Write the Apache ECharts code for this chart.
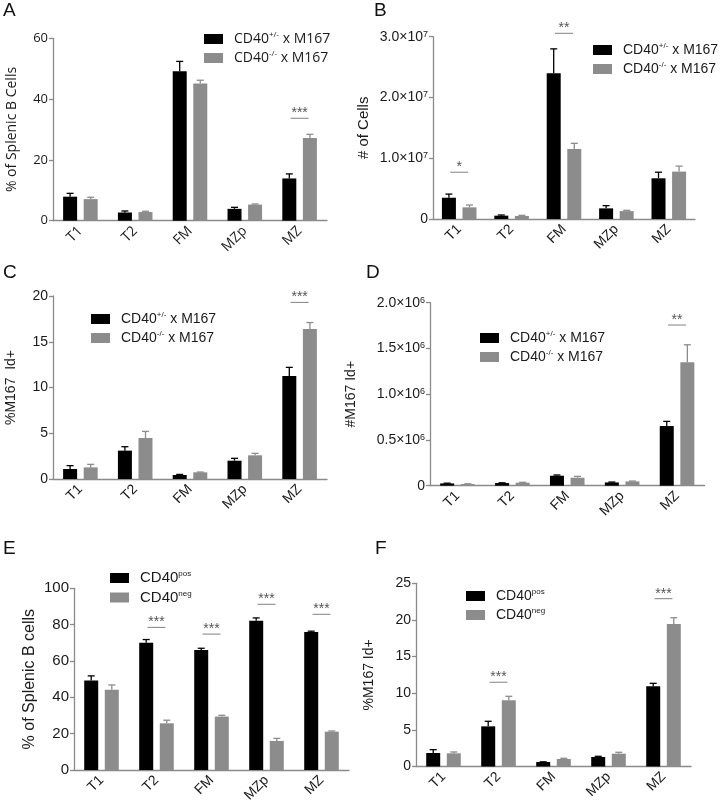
<!DOCTYPE html>
<html><head><meta charset="utf-8">
<script src="https://cdn.jsdelivr.net/npm/echarts@6/dist/echarts.min.js"></script>
<style>html,body{margin:0;padding:0;background:#fff}#c{width:724px;height:808px}</style>
</head><body><div id="c"></div>
<script>
// ---------- DATA ----------
const categories = ['T1', 'T2', 'FM', 'MZp', 'MZ'];
const legendNamesAD = ['CD40+/- x M167', 'CD40-/- x M167'];
const legendNamesEF = ['CD40pos', 'CD40neg'];

// A: % of Splenic B Cells
const aBlack = [7.9, 2.7, 49.2, 3.9, 13.9];
const aBlackErr = [1.1, 0.5, 3.2, 0.5, 1.5];
const aGray = [7.1, 2.85, 45.1, 5.3, 27.2];
const aGrayErr = [0.6, 0.25, 1.1, 0.2, 1.2];
const aSig = [[4, 33.7, '***']];

// B: # of Cells
const bBlack = [3.5e6, 0.55e6, 2.40e7, 1.75e6, 6.7e6];
const bBlackErr = [0.6e6, 0.11e6, 4.0e6, 0.45e6, 1.0e6];
const bGray = [1.92e6, 0.5e6, 1.15e7, 1.3e6, 7.8e6];
const bGrayErr = [0.38e6, 0.1e6, 0.95e6, 0.13e6, 0.9e6];
const bSig = [[0, 7.7e6, '*'], [2, 3.056e7, '**']];
const bTickMantissa = ['0', '1.0', '2.0', '3.0'];
const bTickExp = '7';

// C: %M167 Id+
const cBlack = [1.09, 3.1, 0.44, 2.0, 11.26];
const cBlackErr = [0.37, 0.43, 0.06, 0.26, 0.94];
const cGray = [1.27, 4.48, 0.73, 2.59, 16.4];
const cGrayErr = [0.33, 0.72, 0.03, 0.21, 0.7];
const cSig = [[4, 19.3, '***']];

// D: #M167 Id+
const dBlack = [25000, 29000, 109000, 36000, 652000];
const dBlackErr = [3000, 3000, 8000, 4000, 51000];
const dGray = [18000, 33000, 87000, 47000, 1348000];
const dGrayErr = [3000, 4000, 15000, 4000, 192000];
const dSig = [[4, 1.756e6, '**']];
const dTickMantissa = ['0', '0.5', '1.0', '1.5', '2.0'];
const dTickExp = '6';

// E: % of Splenic B cells
const eBlack = [49.2, 70.0, 66.1, 82.1, 76.0];
const eBlackErr = [2.6, 1.8, 0.9, 1.6, 0.4];
const eGray = [44.1, 25.7, 29.4, 16.0, 21.1];
const eGrayErr = [2.7, 1.7, 0.7, 1.4, 0.4];
const eSig = [[1, 78.5, '***'], [2, 74.8, '***'], [3, 91.2, '***'], [4, 85.7, '***']];

// F: %M167 Id+
const fBlack = [1.84, 5.48, 0.61, 1.3, 10.94];
const fBlackErr = [0.46, 0.69, 0.03, 0.09, 0.41];
const fGray = [1.8, 9.03, 1.02, 1.75, 19.44];
const fGrayErr = [0.18, 0.55, 0.1, 0.19, 0.86];
const fSig = [[1, 11.5, '***'], [4, 22.9, '***']];

// ---------- STYLE / LAYOUT ----------
const BLACK = '#000000';
const GRAY = '#8c8c8c';
const AXIS = '#8a8a8a';
const TXT = '#1a1a1a';
const ARIAL = '"Liberation Sans", Arial, sans-serif';
const OPEN = '"Open Sans", sans-serif';
const BAR_W = 14;
const HALF = 10.3;

function expFormatter(mant, exp, interval) {
  return function (v) {
    const i = Math.round(v / interval);
    if (i === 0) return mant[0];
    return '{m|' + mant[i] + '×10}{e|' + exp + '}';
  };
}

const panels = [
  { letter: 'A', lx: 3, ly: 1, font: OPEN, grid: { left: 53, top: 38.3, width: 274, height: 182.4 },
    max: 60, interval: 20, black: aBlack, blackErr: aBlackErr, gray: aGray, grayErr: aGrayErr, sig: aSig,
    names: legendNamesAD, ytitle: '% of Splenic B Cells', titleSize: 14, nameGap: 34, tickSize: 13, catSize: 14,
    legend: { left: 204, top: 31 }, legendSize: 14 },
  { letter: 'B', lx: 374, ly: 1, font: ARIAL, grid: { left: 433, top: 36.7, width: 262, height: 182.3 },
    max: 3e7, interval: 1e7, black: bBlack, blackErr: bBlackErr, gray: bGray, grayErr: bGrayErr, sig: bSig,
    names: legendNamesAD, ytitle: '# of Cells', titleSize: 15, nameGap: 62, tickSize: 14, catSize: 14,
    fmt: expFormatter(bTickMantissa, bTickExp, 1e7),
    legend: { left: 593, top: 42 }, legendSize: 14 },
  { letter: 'C', lx: 3, ly: 263, font: ARIAL, grid: { left: 53, top: 296, width: 274, height: 183 },
    max: 20, interval: 5, black: cBlack, blackErr: cBlackErr, gray: cGray, grayErr: cGrayErr, sig: cSig,
    names: legendNamesAD, ytitle: '%M167  Id+', titleSize: 14, nameGap: 35, tickSize: 14, catSize: 14,
    legend: { left: 91, top: 311 }, legendSize: 14 },
  { letter: 'D', lx: 366, ly: 263, font: ARIAL, grid: { left: 430, top: 302.7, width: 274.5, height: 183 },
    max: 2e6, interval: 5e5, black: dBlack, blackErr: dBlackErr, gray: dGray, grayErr: dGrayErr, sig: dSig,
    names: legendNamesAD, ytitle: '#M167 Id+', titleSize: 14, nameGap: 72, tickSize: 14, catSize: 14,
    fmt: expFormatter(dTickMantissa, dTickExp, 5e5),
    legend: { left: 480, top: 330 }, legendSize: 14 },
  { letter: 'E', lx: 3, ly: 539, font: ARIAL, grid: { left: 74, top: 588.3, width: 275, height: 181.7 },
    max: 100, interval: 20, black: eBlack, blackErr: eBlackErr, gray: eGray, grayErr: eGrayErr, sig: eSig,
    names: legendNamesEF, ytitle: '% of Splenic B cells', titleSize: 16, nameGap: 36, tickSize: 15, catSize: 14,
    legend: { left: 110, top: 570 }, legendSize: 15 },
  { letter: 'F', lx: 375, ly: 539, font: ARIAL, grid: { left: 416, top: 583.3, width: 275, height: 183.2 },
    max: 25, interval: 5, black: fBlack, blackErr: fBlackErr, gray: fGray, grayErr: fGrayErr, sig: fSig,
    names: legendNamesEF, ytitle: '%M167 Id+', titleSize: 14, nameGap: 40, tickSize: 14, catSize: 14,
    legend: { left: 466, top: 588 }, legendSize: 14 }
];

function legendFmt(name) {
  if (name === 'CD40+/- x M167') return '{g|}{b|CD40}{s|+/-}{b| x M167}';
  if (name === 'CD40-/- x M167') return '{g|}{b|CD40}{s|-/-}{b| x M167}';
  if (name === 'CD40pos') return '{g|}{b|CD40}{s|pos}';
  if (name === 'CD40neg') return '{g|}{b|CD40}{s|neg}';
  return name;
}

function errRender(offset, color) {
  return function (params, api) {
    const i = api.value(0), v = api.value(1), e = api.value(2);
    const p0 = api.coord([i, v]);
    const p1 = api.coord([i, v + e]);
    const cx = p0[0] + offset;
    const st = { stroke: color, lineWidth: 1.3, fill: null };
    return { type: 'group', children: [
      { type: 'line', shape: { x1: cx, y1: p0[1], x2: cx, y2: p1[1] }, style: st },
      { type: 'line', shape: { x1: cx - 3.5, y1: p1[1], x2: cx + 3.5, y2: p1[1] }, style: st }
    ] };
  };
}

function sigRender(font) {
  return function (params, api) {
    const i = api.value(0), v = api.value(1);
    const p = api.coord([i, v]);
    return { type: 'group', children: [
      { type: 'line', shape: { x1: p[0] - 9, y1: p[1], x2: p[0] + 9, y2: p[1] }, style: { stroke: '#808080', lineWidth: 1 } },
      { type: 'text', x: p[0], y: p[1] + 2, style: { text: api.value(2), font: '14px ' + ARIAL, fill: '#555', align: 'center', verticalAlign: 'bottom' } }
    ] };
  };
}

const option = {
  animation: false,
  backgroundColor: '#ffffff',
  grid: [], xAxis: [], yAxis: [], series: [], legend: [], graphic: []
};

panels.forEach(function (p, k) {
  option.grid.push(Object.assign({ containLabel: false, outerBoundsMode: 'none' }, p.grid));
  option.xAxis.push({
    type: 'category', gridIndex: k, data: categories,
    axisLine: { lineStyle: { color: AXIS, width: 1.3 } },
    axisTick: { alignWithLabel: true, length: 4, lineStyle: { color: AXIS, width: 1.3 } },
    axisLabel: { rotate: 45, color: TXT, fontSize: p.catSize, fontFamily: p.font, margin: 8 },
    splitLine: { show: false }
  });
  const yLabel = { color: TXT, fontSize: p.tickSize, fontFamily: p.font, margin: 5 };
  if (p.fmt) {
    yLabel.formatter = p.fmt;
    yLabel.rich = {
      m: { fontSize: p.tickSize, fontFamily: p.font, color: TXT },
      e: { fontSize: 9, fontFamily: p.font, color: TXT, verticalAlign: 'top', lineHeight: 8 }
    };
  }
  option.yAxis.push({
    type: 'value', gridIndex: k, min: 0, max: p.max, interval: p.interval,
    name: p.ytitle, nameLocation: 'middle', nameRotate: 90, nameGap: p.nameGap,
    nameTextStyle: { fontSize: p.titleSize, fontFamily: p.font, color: TXT },
    axisLine: { show: true, lineStyle: { color: AXIS, width: 1.3 } },
    axisTick: { show: true, length: 4, lineStyle: { color: AXIS, width: 1.3 } },
    axisLabel: yLabel,
    splitLine: { show: false }
  });
  option.series.push({
    type: 'bar', name: p.names[0], xAxisIndex: k, yAxisIndex: k, data: p.black,
    barWidth: BAR_W, barGap: '47%', itemStyle: { color: BLACK }
  });
  option.series.push({
    type: 'bar', name: p.names[1], xAxisIndex: k, yAxisIndex: k, data: p.gray,
    barWidth: BAR_W, barGap: '47%', itemStyle: { color: GRAY }
  });
  option.series.push({
    type: 'custom', xAxisIndex: k, yAxisIndex: k, z: 5, clip: false,
    renderItem: errRender(-HALF, BLACK),
    data: p.black.map(function (v, i) { return [i, v, p.blackErr[i]]; })
  });
  option.series.push({
    type: 'custom', xAxisIndex: k, yAxisIndex: k, z: 5, clip: false,
    renderItem: errRender(HALF, GRAY),
    data: p.gray.map(function (v, i) { return [i, v, p.grayErr[i]]; })
  });
  option.series.push({
    type: 'custom', xAxisIndex: k, yAxisIndex: k, z: 5, clip: false,
    renderItem: sigRender(p.font),
    data: p.sig
  });
  option.legend.push({
    orient: 'vertical', left: p.legend.left, top: p.legend.top,
    data: p.names, icon: 'rect', itemWidth: 19, itemHeight: 10, itemGap: 4,
    selectedMode: false, padding: 0,
    formatter: legendFmt,
    textStyle: {
      color: TXT, fontFamily: p.font, fontSize: p.legendSize,
      rich: {
        g: { width: 6 },
        b: { fontSize: p.legendSize, fontFamily: p.font, color: TXT, lineHeight: 16 },
        s: { fontSize: 8, fontFamily: p.font, color: TXT, verticalAlign: 'top', lineHeight: 10 }
      }
    }
  });
  option.graphic.push({
    type: 'text', left: p.lx, top: p.ly,
    style: { text: p.letter, font: '19px ' + ARIAL, fill: '#111' }
  });
});

const chart = echarts.init(document.getElementById('c'), null, { renderer: 'canvas' });
chart.setOption(option);
</script></body></html>
